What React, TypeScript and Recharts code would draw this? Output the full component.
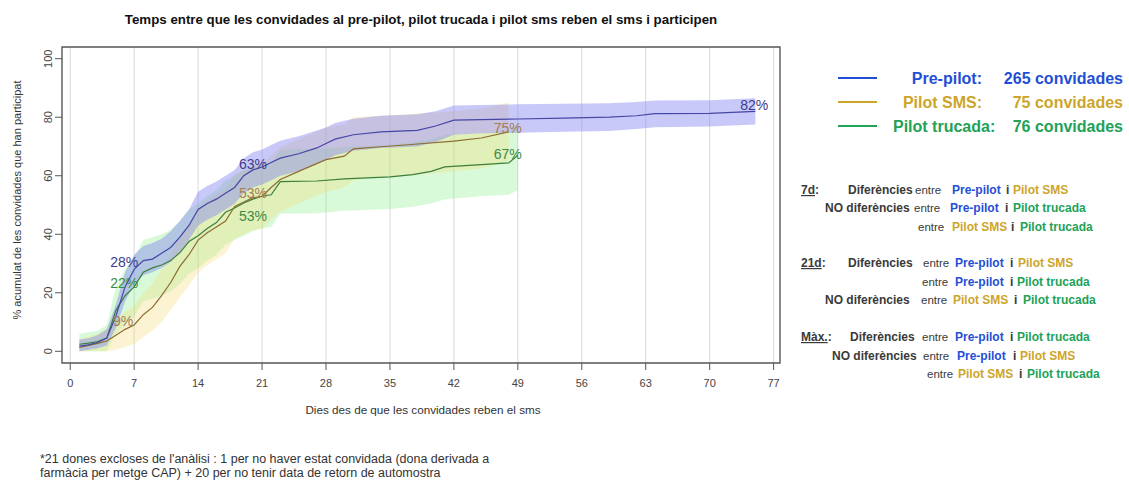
import React from 'react';
import {
  ComposedChart,
  Line,
  Area,
  XAxis,
  YAxis,
  CartesianGrid,
  ReferenceArea,
  LabelList,
} from 'recharts';

// Axis ticks
const xTicks = [0, 7, 14, 21, 28, 35, 42, 49, 56, 63, 70, 77];
const yTicks = [0, 20, 40, 60, 80, 100];

// Groups and invited counts
const seriesNames = ['Pre-pilot', 'Pilot SMS', 'Pilot trucada'];
const seriesCounts = [265, 75, 76];

// Pre-pilot: cumulative % participating, with confidence band
const preDays = [1, 2, 3, 4, 5, 6, 7, 8, 9, 10, 11, 12, 13, 14, 15, 16, 17, 18, 19, 20, 21, 22, 23, 25, 27, 28, 29, 31, 34, 38, 40, 42, 45, 49, 54, 59, 62, 64, 70, 75];
const preValues = [1.8, 2.2, 3.0, 4.5, 12, 22, 28, 31, 31.5, 33.5, 35.5, 39, 43, 48.5, 50.5, 52, 54, 56, 60, 62, 63, 64.5, 66, 67.5, 69.5, 71, 72.5, 74, 75, 75.5, 77, 79, 79.2, 79.4, 79.7, 80, 80.5, 81.2, 81.3, 82];
const preLow = [0, 0.5, 1, 2, 8, 17, 23, 26, 27, 28.5, 30.5, 34, 38, 43, 45, 46.5, 48.5, 50.5, 54, 56, 57, 58.5, 60, 61.5, 64, 65.5, 67, 68.5, 69.5, 70, 71.5, 74, 74.5, 74.7, 75, 75.3, 76, 76.6, 76.8, 77.5];
const preHigh = [4, 4.5, 5.5, 7.5, 16, 27, 33, 36, 37, 38.5, 41, 44.5, 48.5, 54.5, 56.5, 58, 60, 62, 66, 68, 69, 70.5, 72, 73.5, 75.5, 76.5, 78, 79.5, 80.5, 81, 82, 84, 84.2, 84.4, 84.6, 84.8, 85.2, 85.7, 85.8, 86.5];

// Pilot SMS
const smsDays = [1, 2, 3, 4, 5, 6, 7, 8, 9, 10, 11, 12, 13, 14, 15, 16, 17, 18, 19, 20, 21, 22, 23, 25, 28, 30, 31, 34, 37, 42, 45, 48];
const smsValues = [1.3, 2, 2.7, 3.5, 5.5, 7.5, 9, 12.5, 15, 19, 23.5, 29, 33, 38, 40.5, 42.5, 44.5, 49.5, 51, 52.5, 53, 56, 58.7, 61.5, 65.5, 66.7, 69.2, 69.9, 70.6, 71.8, 72.9, 75];
const smsLow = [0, 0, 0, 0, 0.5, 1.5, 2.5, 5, 7, 10, 14, 18.5, 22.5, 27, 29.5, 31.5, 33.5, 38.5, 40, 41.5, 42, 45, 47.7, 50.5, 54.5, 56, 58.5, 59.5, 60, 61.5, 62.5, 65];
const smsHigh = [4, 5, 6, 7.5, 10.5, 13.5, 15.5, 20, 23, 28, 33, 39.5, 43.5, 49, 51.5, 53.5, 55.5, 60.5, 62, 63.5, 64, 67, 69.7, 72.5, 76.5, 77.5, 80, 80.5, 81, 82, 83, 85];

// Pilot trucada
const callDays = [1, 2, 3, 4, 5, 6, 7, 8, 9, 10, 11, 12, 13, 14, 15, 16, 17, 18, 19, 20, 21, 22, 23, 27, 30, 35, 37.5, 39.5, 41, 45, 48, 49];
const callValues = [2.4, 2.8, 3.3, 4.5, 14, 19, 22, 27, 28.5, 29.5, 31, 33.7, 37.5, 39.5, 42, 44, 47.5, 49, 50.7, 52, 53, 53.5, 58, 58.2, 58.9, 59.6, 60.4, 61.5, 63, 63.8, 64.4, 67];
const callLow = [0, 0, 0, 0, 6, 9, 12, 17, 18, 19, 20.5, 23, 26.5, 28.5, 31, 33, 36.5, 38, 39.5, 41, 42, 42.5, 47, 47.2, 48, 48.6, 49.4, 50.5, 52, 53, 53.5, 55];
const callHigh = [6, 6.5, 7, 9, 22, 28, 32, 38, 39, 40, 41.5, 44.5, 48.5, 50.5, 53, 55, 58.5, 60, 62, 63, 64, 64.5, 69, 69.2, 69.8, 70.6, 71.4, 72.5, 74, 74.6, 75.3, 77.5];

type Row = { d: number; v: number; band: [number, number] };
const build = (days: number[], vals: number[], lo: number[], hi: number[]): Row[] =>
  days.map((d, i) => ({ d, v: vals[i], band: [lo[i], hi[i]] }));

const preData = build(preDays, preValues, preLow, preHigh);
const smsData = build(smsDays, smsValues, smsLow, smsHigh);
const callData = build(callDays, callValues, callLow, callHigh);

const FONT = '"Liberation Sans", Arial, Helvetica, sans-serif';
const NARROW = '"Liberation Sans Narrow", "Arial Narrow", "Liberation Sans", Arial, sans-serif';

const BLUE = '#1f4fd6';
const GOLD = '#cda52a';
const GREEN = '#20a257';
const DARK = '#3a3a3a';

type Spot = { day: number; dx: number; dy: number; anchor: 'start' | 'middle' | 'end' };

const makeLabel = (days: number[], spots: Spot[], color: string) => (props: any) => {
  const { x, y, value, index } = props;
  const spot = spots.find((s) => s.day === days[index]);
  if (!spot || x == null || y == null) return null;
  return (
    <text
      x={Number(x) + spot.dx}
      y={Number(y) + spot.dy}
      textAnchor={spot.anchor}
      fill={color}
      fontSize={14}
      fontFamily={FONT}
    >
      {`${Math.round(Number(value))}%`}
    </text>
  );
};

const YTick = (props: any) => {
  const { x, y, payload } = props;
  return (
    <text
      x={x}
      y={y}
      transform={`rotate(-90 ${x} ${y})`}
      textAnchor="middle"
      fontSize={11}
      fontFamily={FONT}
      fill="#444"
    >
      {payload.value}
    </text>
  );
};

type Part = [string, number, string, boolean];
type NoteRow = { y: number; head?: string; parts: Part[] };

const notes: NoteRow[] = [
  { y: 194, head: '7d', parts: [['Diferències', 848, DARK, true], ['entre', 915, DARK, false], ['Pre-pilot', 952, BLUE, true], ['i', 1006, DARK, true], ['Pilot SMS', 1013, GOLD, true]] },
  { y: 212, parts: [['NO diferències', 825, DARK, true], ['entre', 914, DARK, false], ['Pre-pilot', 950, BLUE, true], ['i', 1005, DARK, true], ['Pilot trucada', 1013, GREEN, true]] },
  { y: 231, parts: [['entre', 918, DARK, false], ['Pilot SMS', 952, GOLD, true], ['i', 1011, DARK, true], ['Pilot trucada', 1020, GREEN, true]] },
  { y: 267, head: '21d', parts: [['Diferències', 848, DARK, true], ['entre', 923, DARK, false], ['Pre-pilot', 955, BLUE, true], ['i', 1010, DARK, true], ['Pilot SMS', 1018, GOLD, true]] },
  { y: 286, parts: [['entre', 922, DARK, false], ['Pre-pilot', 955, BLUE, true], ['i', 1010, DARK, true], ['Pilot trucada', 1017, GREEN, true]] },
  { y: 304, parts: [['NO diferències', 825, DARK, true], ['entre', 921, DARK, false], ['Pilot SMS', 953, GOLD, true], ['i', 1014, DARK, true], ['Pilot trucada', 1023, GREEN, true]] },
  { y: 341, head: 'Màx.', parts: [['Diferències', 850, DARK, true], ['entre', 922, DARK, false], ['Pre-pilot', 955, BLUE, true], ['i', 1010, DARK, true], ['Pilot trucada', 1017, GREEN, true]] },
  { y: 360, parts: [['NO diferències', 832, DARK, true], ['entre', 923, DARK, false], ['Pre-pilot', 957, BLUE, true], ['i', 1013, DARK, true], ['Pilot SMS', 1020, GOLD, true]] },
  { y: 378, parts: [['entre', 927, DARK, false], ['Pilot SMS', 958, GOLD, true], ['i', 1019, DARK, true], ['Pilot trucada', 1027, GREEN, true]] },
];

const legendColors = [BLUE, GOLD, GREEN];
const legendY = [78, 102, 126];

export default function App() {
  return (
    <div style={{ position: 'absolute', left: 0, top: 0, width: 1129, height: 482, background: '#fff' }}>
      <ComposedChart
        width={1129}
        height={482}
        margin={{ top: 47, right: 349, bottom: 79, left: 0 }}
        style={{ position: 'absolute', left: 0, top: 0 }}
      >
        <CartesianGrid horizontal={false} stroke="#d9d9d9" strokeWidth={1} />
        <XAxis
          type="number"
          dataKey="d"
          domain={[-0.9, 77.7]}
          ticks={xTicks}
          allowDataOverflow
          height={40}
          axisLine={false}
          tickLine={{ stroke: '#555' }}
          tickSize={7}
          tickMargin={9}
          tick={{ fontSize: 11, fontFamily: FONT, fill: '#444' }}
          interval={0}
        />
        <YAxis
          type="number"
          domain={[-4, 104]}
          ticks={yTicks}
          allowDataOverflow
          width={62}
          axisLine={false}
          tickLine={{ stroke: '#555' }}
          tickSize={7}
          tickMargin={3}
          tick={<YTick />}
          interval={0}
        />
        <Area
          data={callData}
          dataKey="band"
          type="linear"
          stroke="none"
          fill="#7ff07f"
          fillOpacity={0.3}
          isAnimationActive={false}
        />
        <Area
          data={smsData}
          dataKey="band"
          type="linear"
          stroke="none"
          fill="#f5d76e"
          fillOpacity={0.3}
          isAnimationActive={false}
        />
        <Area
          data={preData}
          dataKey="band"
          type="linear"
          stroke="none"
          fill="#8585f2"
          fillOpacity={0.45}
          isAnimationActive={false}
        />
        <Line data={callData} dataKey="v" type="linear" stroke="#3d7f3d" strokeWidth={1.2} dot={false} isAnimationActive={false}>
          <LabelList
            dataKey="v"
            content={makeLabel(callDays, [
              { day: 7, dx: 4, dy: 1, anchor: 'end' },
              { day: 21, dx: 5, dy: 25, anchor: 'end' },
              { day: 49, dx: 4, dy: 4, anchor: 'end' },
            ], '#3a8a46')}
          />
        </Line>
        <Line data={smsData} dataKey="v" type="linear" stroke="#8c6d34" strokeWidth={1.2} dot={false} isAnimationActive={false}>
          <LabelList
            dataKey="v"
            content={makeLabel(smsDays, [
              { day: 7, dx: -1, dy: 1.5, anchor: 'end' },
              { day: 21, dx: 5, dy: 2, anchor: 'end' },
              { day: 48, dx: 13, dy: 1, anchor: 'end' },
            ], '#a67c52')}
          />
        </Line>
        <Line data={preData} dataKey="v" type="linear" stroke="#4646a6" strokeWidth={1.2} dot={false} isAnimationActive={false}>
          <LabelList
            dataKey="v"
            content={makeLabel(preDays, [
              { day: 7, dx: 4, dy: -2, anchor: 'end' },
              { day: 21, dx: 5, dy: 2, anchor: 'end' },
              { day: 75, dx: 13, dy: -1, anchor: 'end' },
            ], '#3c3c8c')}
          />
        </Line>
        <ReferenceArea
          x1={-0.9}
          x2={77.7}
          y1={-4}
          y2={104}
          fill="none"
          stroke="#555"
          strokeWidth={1.3}
          ifOverflow="visible"
        />
      </ComposedChart>

      <svg
        width={1129}
        height={482}
        style={{ position: 'absolute', left: 0, top: 0, pointerEvents: 'none' }}
        fontFamily={FONT}
      >
        <text x={421} y={24} textAnchor="middle" fontSize={13.3} fontWeight="bold" fill="#111">
          Temps entre que les convidades al pre-pilot, pilot trucada i pilot sms reben el sms i participen
        </text>
        <text
          x={21}
          y={200}
          transform="rotate(-90 21 200)"
          textAnchor="middle"
          fontSize={11}
          fill="#333"
        >
          % acumulat de les convidades que han participat
        </text>
        <text x={423} y={414} textAnchor="middle" fontSize={11.7} fill="#333">
          Dies des de que les convidades reben el sms
        </text>

        {seriesNames.map((name, i) => (
          <g key={name}>
            <line x1={838} x2={877} y1={legendY[i]} y2={legendY[i]} stroke={legendColors[i]} strokeWidth={2} />
            <text
              x={i === 2 ? 893 : 982}
              y={legendY[i] + 5.5}
              textAnchor={i === 2 ? 'start' : 'end'}
              fontSize={16}
              fontWeight="bold"
              fill={legendColors[i]}
            >
              {`${name}:`}
            </text>
            <text x={1123} y={legendY[i] + 5.5} textAnchor="end" fontSize={16} fontWeight="bold" fill={legendColors[i]}>
              {`${seriesCounts[i]} convidades`}
            </text>
          </g>
        ))}

        {notes.map((row, r) => (
          <g key={r}>
            {row.head && (
              <text x={801} y={row.y} fontSize={12} fontWeight="bold" fill={DARK}>
                <tspan style={{ textDecoration: 'underline' }}>{row.head}</tspan>
                <tspan>:</tspan>
              </text>
            )}
            {row.parts.map(([t, x, c, b], k) => (
              <text
                key={k}
                x={x}
                y={row.y}
                fontSize={b ? 12 : 11.5}
                fontWeight={b ? 'bold' : 'normal'}
                fontFamily={b ? FONT : NARROW}
                fill={c}
              >
                {t}
              </text>
            ))}
          </g>
        ))}

        <text x={40} y={463} fontSize={12.5} fill="#333">
          *21 dones excloses de l'anàlisi : 1 per no haver estat convidada (dona derivada a
        </text>
        <text x={40} y={477} fontSize={12.5} fill="#333">
          farmàcia per metge CAP) + 20 per no tenir data de retorn de automostra
        </text>
      </svg>
    </div>
  );
}
